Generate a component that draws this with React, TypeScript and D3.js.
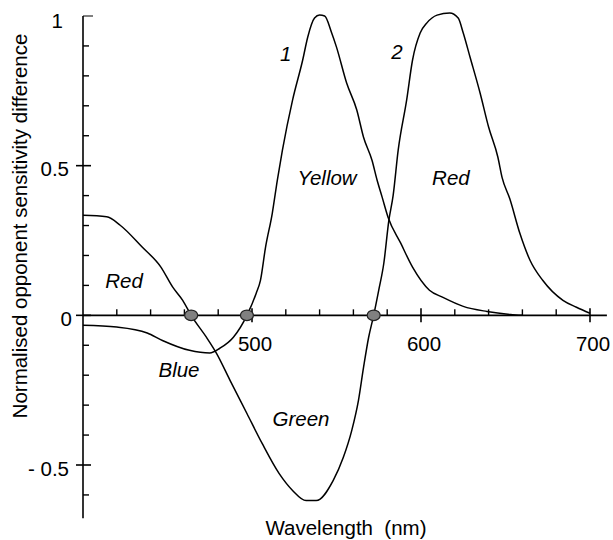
import React from 'react';
import { scaleLinear, line, curveMonotoneX } from 'd3';

// wavelength (nm) / normalised opponent sensitivity
const rgWave = [400, 414, 422, 435, 446, 453, 459, 464, 473, 479, 487, 497, 506, 516, 524, 532, 538, 548, 554, 559, 563, 566, 569, 572, 575, 578, 581, 583.5, 586.5, 591.5, 595, 599.5, 603.5, 609.5, 617, 622, 625, 629, 635, 640, 645.5, 648, 652.5, 658.5, 664.5, 672, 684, 692, 700];
const rgValue = [0.334, 0.329, 0.301, 0.228, 0.162, 0.095, 0.05, 0.0, -0.073, -0.127, -0.217, -0.328, -0.428, -0.528, -0.585, -0.619, -0.619, -0.552, -0.475, -0.385, -0.284, -0.174, -0.074, 0.0, 0.084, 0.174, 0.318, 0.4, 0.552, 0.719, 0.853, 0.943, 0.977, 1.003, 1.01, 0.993, 0.943, 0.863, 0.742, 0.629, 0.528, 0.46, 0.39, 0.274, 0.184, 0.117, 0.05, 0.027, 0.007];

const ybWave = [400, 420, 438, 447, 463, 475, 481, 489, 497, 502.5, 505, 508, 512, 515, 518, 524, 530, 533, 537, 540, 543, 547, 550, 556, 562, 566, 571, 574, 577, 580.5, 588, 595, 605, 613, 625, 639, 653, 660];
const ybValue = [-0.033, -0.039, -0.059, -0.084, -0.117, -0.126, -0.11, -0.073, 0.0, 0.074, 0.117, 0.227, 0.341, 0.452, 0.552, 0.719, 0.853, 0.93, 0.993, 1.003, 1.0, 0.946, 0.896, 0.776, 0.686, 0.595, 0.518, 0.452, 0.395, 0.328, 0.241, 0.161, 0.084, 0.06, 0.03, 0.013, 0.003, 0.0];

// neutral points (zero crossings)
const neutralPoints = [464, 497, 572];

const xMajor = [500, 600, 700];
const xMinor = [420, 440, 460, 480, 520, 540, 560, 580, 620, 640, 660, 680];
const yMajor = [0.5, 0, -0.5];
const yMajorLabels = ['0.5', '0', '- 0.5'];
const yMinor = [-0.6, -0.4, -0.3, -0.2, -0.1, 0.1, 0.2, 0.3, 0.4, 0.6, 0.7, 0.8, 0.9];

// region labels: wavelength (nm), value at baseline
const labelText = ['1', '2', 'Yellow', 'Red', 'Red', 'Blue', 'Green'];
const labelWave = [520, 585.8, 544.4, 617.7, 424.3, 456.8, 529];
const labelValue = [0.85, 0.855, 0.435, 0.435, 0.09, -0.207, -0.37];

const W = 613;
const H = 540;
const FONT = '"Liberation Sans", Arial, Helvetica, sans-serif';
const FS = 20.5;

export default function App() {
  const x = scaleLinear().domain([400, 700]).range([83, 590]);
  const y = scaleLinear().domain([-0.5, 1]).range([465, 16]);

  const curve = line<[number, number]>()
    .x(d => x(d[0]))
    .y(d => y(d[1]))
    .curve(curveMonotoneX);

  const rgPts = rgWave.map((w, i) => [w, rgValue[i]] as [number, number]);
  const ybPts = ybWave.map((w, i) => [w, ybValue[i]] as [number, number]);

  const x0 = x(400);
  const y0 = y(0);
  const yBottom = y(-0.678);
  const xRight = x(710);

  return (
    <svg
      width={W}
      height={H}
      style={{ position: 'absolute', left: 0, top: 0, background: '#fff' }}
      fontFamily={FONT}
    >
      {/* axes */}
      <line x1={x0} x2={x0} y1={y(1)} y2={yBottom} stroke="#000" strokeWidth={1.6} />
      <line x1={x0} x2={xRight} y1={y0} y2={y0} stroke="#000" strokeWidth={1.6} />

      {/* y ticks */}
      <line x1={x0} x2={x0 + 10} y1={y(1)} y2={y(1)} stroke="#000" strokeWidth={1} />
      <text x={63} y={y(1) + 4} fontSize={FS} textAnchor="end" dominantBaseline="central">1</text>
      {yMinor.map(v => (
        <line key={'ym' + v} x1={x0} x2={x0 + 6} y1={y(v)} y2={y(v)} stroke="#000" strokeWidth={1.4} />
      ))}
      {yMajor.map((v, i) => (
        <g key={'yM' + v}>
          <line x1={x0 - 7} x2={x0 + 8} y1={y(v)} y2={y(v)} stroke="#000" strokeWidth={1.6} />
          <text x={i === 1 ? 72 : 69} y={y(v) + 3} fontSize={FS} textAnchor="end" dominantBaseline="central">
            {yMajorLabels[i]}
          </text>
        </g>
      ))}

      {/* x ticks */}
      {xMinor.map(v => (
        <line key={'xm' + v} x1={x(v)} x2={x(v)} y1={y0} y2={y0 - 6} stroke="#000" strokeWidth={1.4} />
      ))}
      {xMajor.map(v => (
        <g key={'xM' + v}>
          <line x1={x(v)} x2={x(v)} y1={y0 - 7} y2={y0 + 7} stroke="#000" strokeWidth={1.6} />
          <text x={x(v) + 3} y={y0 + 36} fontSize={FS} textAnchor="middle">{v}</text>
        </g>
      ))}

      {/* curves */}
      <path d={curve(ybPts) || ''} fill="none" stroke="#000" strokeWidth={1.5} strokeLinejoin="round" />
      <path d={curve(rgPts) || ''} fill="none" stroke="#000" strokeWidth={1.5} strokeLinejoin="round" />

      {/* neutral points */}
      {neutralPoints.map(w => (
        <ellipse key={'n' + w} cx={x(w)} cy={y0} rx={6.5} ry={5.3} fill="#808080" stroke="#222" strokeWidth={1.2} />
      ))}

      {/* region labels */}
      {labelText.map((t, i) => (
        <text key={'l' + i} x={x(labelWave[i])} y={y(labelValue[i])} fontSize={FS} fontStyle="italic" textAnchor="middle">
          {t}
        </text>
      ))}

      {/* axis titles */}
      <text x={346} y={535} fontSize={FS} textAnchor="middle" style={{ whiteSpace: 'pre' }}>
        {'Wavelength  (nm)'}
      </text>
      <text transform="translate(27, 226) rotate(-90)" fontSize={FS} textAnchor="middle">
        Normalised opponent sensitivity difference
      </text>
    </svg>
  );
}
